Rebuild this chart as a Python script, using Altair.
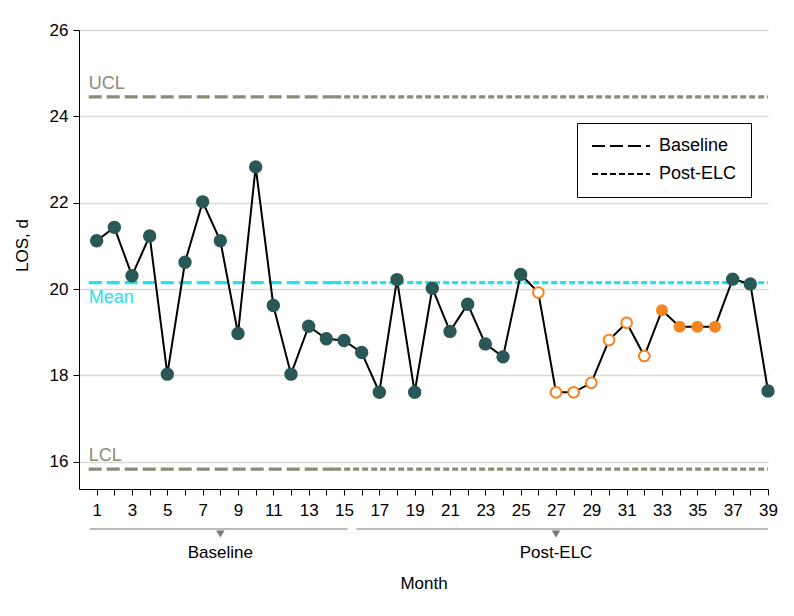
import altair as alt
import pandas as pd

FONT = "Liberation Sans, Arial, sans-serif"

# ---- data ----
months = list(range(1, 40))
los = [21.12, 21.43, 20.31, 21.23, 18.03, 20.62, 22.02, 21.12, 18.97, 22.83,
       19.62, 18.03, 19.14, 18.85, 18.81, 18.53, 17.61, 20.22, 17.61, 20.02,
       19.02, 19.65, 18.73, 18.43, 20.34, 19.92, 17.61, 17.61, 17.83, 18.82,
       19.22, 18.45, 19.51, 19.13, 19.13, 19.13, 20.23, 20.12, 17.64]
point_style = ["base"] * 25 + ["open"] * 7 + ["filled"] * 4 + ["base"] * 3

limit_names = ["UCL", "Mean", "LCL"]
limit_values = [24.45, 20.15, 15.83]
label_side = ["above", "below", "above"]
period_names = ["Baseline", "Post-ELC"]
period_start = [0.55, 14.5]
period_end = [14.5, 39]

bracket_start = [0.6, 15.7]
bracket_end = [15.2, 39]
bracket_mid = [8, 27]

TEAL = "#2a5856"
ORANGE = "#f5851f"
GRAY_LINE = "#8b8b78"
CYAN = "#22e3ec"

pts = pd.DataFrame({"month": months, "los": los, "style": point_style})

rows = []
for ln, lv in zip(limit_names, limit_values):
    for pn, ps, pe in zip(period_names, period_start, period_end):
        rows.append({"limit": ln, "period": pn, "start": ps, "end": pe, "value": lv})
lines_df = pd.DataFrame(rows)

labels_df = pd.DataFrame({
    "limit": limit_names,
    "value": limit_values,
    "x": [period_start[0]] * 3,
    "side": label_side,
})

brk = pd.DataFrame({"period": period_names, "start": bracket_start,
                    "end": bracket_end, "mid": bracket_mid})

x_scale = alt.Scale(domain=[0, 39], nice=False, zero=False)
y_scale = alt.Scale(domain=[15.37, 26], nice=False, zero=False)

W, H = 689, 459

x_axis = alt.Axis(values=months,
                  labelExpr="datum.value % 2 == 1 ? datum.label : ''",
                  grid=False, tickSize=6, tickColor="black", domainColor="black",
                  labelFontSize=17, labelPadding=7, labelColor="black",
                  labelFont=FONT, title="Month", titleFont=FONT,
                  titleFontSize=17, titleFontWeight="normal", titleColor="black",
                  titleX=W / 2, titleY=94, titleBaseline="middle",
                  labelFlush=False, labelOverlap=False)
y_axis = alt.Axis(values=[16, 18, 20, 22, 24, 26], grid=True, gridColor="#d9d9d9",
                  gridWidth=1.5, tickSize=6, tickColor="black", domainColor="black",
                  labelFontSize=17, labelPadding=5, labelColor="black",
                  labelFont=FONT, title="LOS, d", titleFont=FONT,
                  titleFontSize=17, titleFontWeight="normal", titleColor="black",
                  titleAngle=270, titleX=-57, titleY=215, titleBaseline="middle",
                  titleAlign="center", labelOverlap=False)


def X(field):
    return alt.X(field, scale=x_scale, axis=x_axis)


def Y(field):
    return alt.Y(field, scale=y_scale, axis=y_axis)


limit_color = alt.Color("limit:N", scale=alt.Scale(domain=limit_names,
                                                    range=[GRAY_LINE, CYAN, GRAY_LINE]),
                        legend=None)

rules = alt.Chart(lines_df).mark_rule(strokeWidth=3.2).encode(
    x=X("start:Q"),
    x2="end:Q",
    y=Y("value:Q"),
    color=limit_color,
    strokeDash=alt.StrokeDash(
        "period:N",
        scale=alt.Scale(domain=period_names, range=[[13, 5], [6, 3]]),
        legend=alt.Legend(title=None, orient="none", legendX=498, legendY=93,
                          strokeColor="black", fillColor="white", padding=14,
                          labelFontSize=18, labelFont=FONT, labelColor="black",
                          symbolType="stroke", symbolStrokeColor="black",
                          symbolStrokeWidth=2, symbolSize=3364,
                          clipHeight=18, rowPadding=10, labelOffset=8),
    ),
)

text_above = alt.Chart(labels_df).transform_filter(
    alt.datum.side == "above").mark_text(
    align="left", baseline="middle", fontSize=18, font=FONT, dy=-13).encode(
    x=X("x:Q"), y=Y("value:Q"), text="limit:N", color=limit_color)

text_below = alt.Chart(labels_df).transform_filter(
    alt.datum.side == "below").mark_text(
    align="left", baseline="middle", fontSize=18, font=FONT, dy=15).encode(
    x=X("x:Q"), y=Y("value:Q"), text="limit:N", color=limit_color)

conn = alt.Chart(pts).mark_line(color="black", strokeWidth=2).encode(
    x=X("month:Q"), y=Y("los:Q"))

dots = alt.Chart(pts).mark_point(shape="circle", strokeWidth=2, opacity=1,
                                 fillOpacity=1).encode(
    x=X("month:Q"), y=Y("los:Q"),
    fill=alt.Fill("style:N", scale=alt.Scale(domain=["base", "open", "filled"],
                                             range=[TEAL, "white", ORANGE]),
                  legend=None),
    stroke=alt.Stroke("style:N", scale=alt.Scale(domain=["base", "open", "filled"],
                                                 range=[TEAL, ORANGE, ORANGE]),
                      legend=None),
    size=alt.Size("style:N", scale=alt.Scale(domain=["base", "open", "filled"],
                                             range=[130, 100, 130]),
                  legend=None),
)

brk_rule = alt.Chart(brk).mark_rule(color="#777777", strokeWidth=1.2).encode(
    x=X("start:Q"), x2="end:Q", y=alt.value(H + 40))
brk_tri = alt.Chart(brk).mark_point(shape="triangle-down", filled=True,
                                    color="#777777", size=70, opacity=1).encode(
    x=X("mid:Q"), y=alt.value(H + 45))
brk_text = alt.Chart(brk).mark_text(fontSize=17, font=FONT, color="black",
                                    baseline="middle").encode(
    x=X("mid:Q"), y=alt.value(H + 64), text="period:N")

chart = alt.layer(rules, text_above, text_below, conn, dots,
                  brk_rule, brk_tri, brk_text).properties(
    width=W, height=H,
    autosize=alt.AutoSizeParams(type="none"),
    padding={"left": 71, "top": 22, "right": 18, "bottom": 110},
).configure_view(stroke=None).resolve_scale(color="independent")

chart.save("out.html", embed_options={"renderer": "svg", "actions": False})
